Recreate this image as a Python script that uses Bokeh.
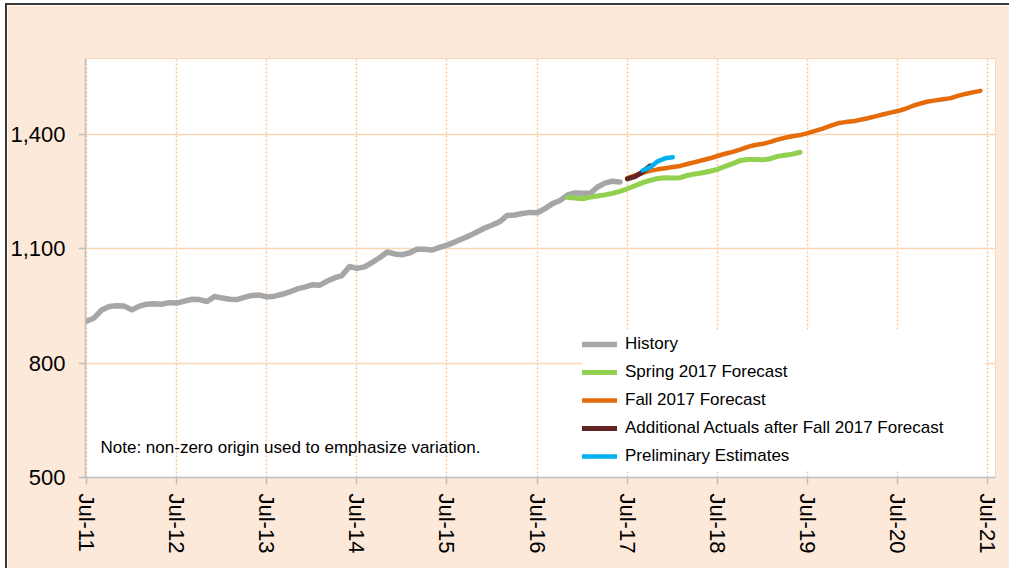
import pandas as pd
from bokeh.plotting import figure
from bokeh.models import (FixedTicker, DatetimeTickFormatter, Legend, LegendItem,
                          Label, NumeralTickFormatter, Range1d)
from bokeh.embed import file_html
from bokeh.resources import INLINE

# ---------------- data ----------------
months = pd.date_range("2011-07-01", "2021-06-01", freq="MS")

history = [910, 919, 940, 949, 951, 950, 940, 950, 955, 956, 955, 959,
           958, 963, 968, 967, 962, 975, 971, 968, 967, 973, 978, 979,
           974, 976, 981, 987, 995, 1000, 1006, 1005, 1015, 1024, 1030, 1054,
           1049, 1053, 1065, 1077, 1092, 1087, 1085, 1090, 1099, 1099, 1097, 1104,
           1110, 1118, 1127, 1135, 1145, 1155, 1163, 1172, 1188, 1189, 1193, 1196,
           1195, 1206, 1219, 1227, 1242, 1247, 1246, 1246, 1262, 1273, 1278, 1276]
history_months = months[0:72]

spring = [1235, 1234, 1232, 1236, 1239, 1242, 1246, 1251, 1258, 1266, 1274, 1280,
          1285, 1287, 1286, 1287, 1293, 1297, 1300, 1304, 1309, 1317, 1324, 1332,
          1335, 1335, 1334, 1337, 1343, 1346, 1349, 1354]
spring_months = months[64:96]

fall = [1286, 1293, 1300, 1305, 1309, 1312, 1315, 1318, 1323, 1328, 1333, 1338,
        1344, 1350, 1355, 1361, 1368, 1373, 1376, 1381, 1387, 1392, 1396, 1399,
        1404, 1410, 1416, 1423, 1430, 1433, 1435, 1439, 1443, 1448, 1453, 1458,
        1462, 1468, 1476, 1482, 1487, 1490, 1493, 1496, 1502, 1507, 1511, 1515]
fall_months = months[72:120]

additional = [1284, 1290, 1302, 1318]
additional_months = months[72:76]

prelim = [1306, 1314, 1330, 1338, 1341]
prelim_months = months[74:79]

tick_labels = ["Jul-11", "Jul-12", "Jul-13", "Jul-14", "Jul-15", "Jul-16",
               "Jul-17", "Jul-18", "Jul-19", "Jul-20", "Jul-21"]
y_ticks = [500, 800, 1100, 1400]

series_names = ["History", "Spring 2017 Forecast", "Fall 2017 Forecast",
                "Additional Actuals after Fall 2017 Forecast", "Preliminary Estimates"]
note_text = "Note: non-zero origin used to emphasize variation."

# ---------------- styling ----------------
FONT = "Liberation Sans"
PEACH = "#FDE9D9"
GRID = "#FCD5B4"
AXIS = "#BFBFBF"
colors = ["#A6A6A6", "#92D050", "#E46C0A", "#632523", "#00B0F0"]

p = figure(width=1004, height=565, x_axis_type="datetime",
           output_backend="svg", toolbar_location=None,
           x_range=Range1d(pd.Timestamp("2011-06-27"), pd.Timestamp("2021-08-01")),
           y_range=Range1d(500, 1600),
           min_border_left=76, min_border_top=53, min_border_right=16,
           min_border_bottom=93)
p.styles = {"margin-left": "5px", "margin-top": "3px",
            "border-left": "2px solid #3a3a3a", "border-top": "2px solid #3a3a3a"}
p.border_fill_color = PEACH
p.background_fill_color = "white"
p.outline_line_color = GRID
p.outline_line_width = 1

tick_pos = [pd.to_datetime(t, format="%b-%y") for t in tick_labels]
p.xaxis.ticker = FixedTicker(ticks=[t.value // 10**6 for t in tick_pos])
fmt = "%b-%y"
p.xaxis.formatter = DatetimeTickFormatter(days=fmt, months=fmt, years=fmt,
                                          hours=fmt, hourmin=fmt, minutes=fmt)
p.yaxis.ticker = FixedTicker(ticks=y_ticks)
p.yaxis.formatter = NumeralTickFormatter(format="0,0")

for ax in (p.xaxis, p.yaxis):
    ax.axis_line_color = AXIS
    ax.axis_line_width = 1.5
    ax.major_tick_line_color = AXIS
    ax.major_tick_line_width = 1.5
    ax.major_tick_out = 7
    ax.major_tick_in = 0
    ax.minor_tick_line_color = None
    ax.major_label_text_font = FONT
    ax.major_label_text_font_size = "22px"
    ax.major_label_text_color = "black"

p.xaxis.major_label_orientation = "vertical"
p.xaxis.major_label_standoff = 9
p.yaxis.major_label_standoff = 13

p.ygrid.grid_line_color = GRID
p.ygrid.grid_line_width = 1.5
p.xgrid.grid_line_color = "#F9C79C"
p.xgrid.grid_line_width = 1.5
p.xgrid.grid_line_dash = "2 2"

xs = [history_months, spring_months, fall_months, additional_months, prelim_months]
ys = [history, spring, fall, additional, prelim]
widths = [5.5, 5, 4.5, 5, 4.5]
renderers = []
for x, y, c, w in zip(xs, ys, colors, widths):
    r = p.line(x, y, line_color=c, line_width=w, line_cap="round", line_join="round")
    renderers.append(r)

legend = Legend(items=[LegendItem(label=n, renderers=[r]) for n, r in zip(series_names, renderers)],
                location=(497, 7), padding=6, margin=0, spacing=0,
                glyph_width=35, glyph_height=28, label_height=28, label_width=360,
                label_standoff=8, label_text_font=FONT, label_text_font_size="17px",
                label_text_color="black", border_line_color=None,
                background_fill_color="white", background_fill_alpha=1.0)
p.add_layout(legend)

note = Label(x=15, y=30, x_units="screen", y_units="screen", text=note_text,
             text_font=FONT, text_font_size="17px", text_color="black",
             text_baseline="middle")
p.add_layout(note)

open("out.html", "w").write(file_html(p, INLINE))
